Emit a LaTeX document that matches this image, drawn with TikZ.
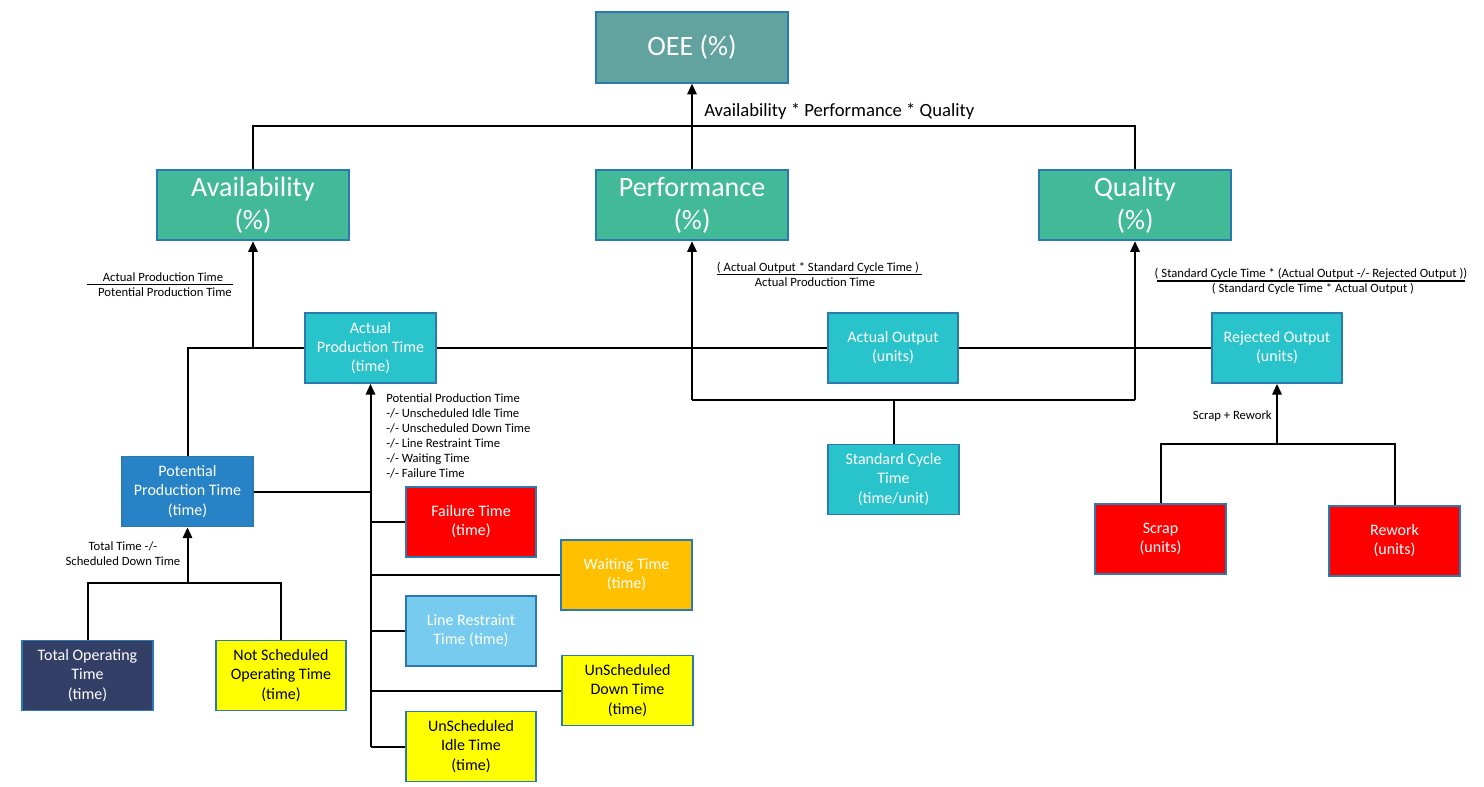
\documentclass[tikz,border=0pt]{standalone}
\usepackage{fontspec}
\setmainfont{Carlito}
\usetikzlibrary{arrows.meta}
\definecolor{bordc}{HTML}{2A7AB0}
\definecolor{oeec}{HTML}{62A39F}
\definecolor{greenc}{HTML}{42BA97}
\definecolor{cyanc}{HTML}{29C4CB}
\definecolor{bluec}{HTML}{2782C6}
\definecolor{redc}{HTML}{FF0000}
\definecolor{orangec}{HTML}{FFC000}
\definecolor{lbluec}{HTML}{76CBEE}
\definecolor{yellowc}{HTML}{FFFF00}
\definecolor{navyc}{HTML}{333F66}
\begin{document}
\begin{tikzpicture}[x=0.75pt,y=-0.75pt,
 box/.style={draw=bordc, line width=1.3pt, align=center, text=white, inner sep=1pt},
 bigbox/.style={box, minimum width=144pt, minimum height=53pt, font=\fontsize{21}{24.75}\selectfont},
 smallbox/.style={box, minimum width=98pt, minimum height=52.5pt, font=\fontsize{12}{14.3}\selectfont},
 conn/.style={line width=1.5pt},
 arr/.style={conn, -{Triangle[length=8pt,width=7pt]}},
 lbl/.style={font=\fontsize{9.5}{11.25}\selectfont, inner sep=0pt},
 fracbar/.style={line width=1.3pt},
]
\fill[white] (0,0) rectangle (1484,786);
\useasboundingbox (0,0) rectangle (1484,786);

% boxes
\node[bigbox, fill=oeec] (oee) at (692,47.5) {OEE (\%)};
\node[bigbox, fill=greenc] (avail) at (253,205) {Availability\\(\%)};
\node[bigbox, fill=greenc] (perf) at (692,205) {Performance\\(\%)};
\node[bigbox, fill=greenc] (qual) at (1135,205) {Quality\\(\%)};

\node[smallbox, fill=cyanc] (apt) at (370.5,348) {Actual\\Production Time\\(time)};
\node[smallbox, fill=cyanc] (ao) at (893,348) {Actual Output\\(units)};
\node[smallbox, fill=cyanc] (ro) at (1277,348) {Rejected Output\\(units)};
\node[smallbox, fill=cyanc] (sct) at (893.5,479.5) {Standard Cycle\\Time\\(time/unit)};
\node[smallbox, fill=bluec] (ppt) at (187.5,491.5) {Potential\\Production Time\\(time)};
\node[smallbox, fill=redc] (fail) at (471,522) {Failure Time\\(time)};
\node[smallbox, fill=orangec] (wait) at (626.5,575) {Waiting Time\\(time)};
\node[smallbox, fill=lbluec] (lr) at (471,631) {Line Restraint\\Time (time)};
\node[smallbox, fill=yellowc, text=black] (usd) at (627.5,690.5) {UnScheduled\\Down Time\\(time)};
\node[smallbox, fill=yellowc, text=black] (usi) at (471,746.5) {UnScheduled\\Idle Time\\(time)};
\node[smallbox, fill=navyc] (tot) at (87.5,675.5) {Total Operating\\Time\\(time)};
\node[smallbox, fill=yellowc, text=black] (nso) at (281,675.5) {Not Scheduled\\Operating Time\\(time)};
\node[smallbox, fill=redc] (scrap) at (1160.5,539) {Scrap\\(units)};
\node[smallbox, fill=redc] (rework) at (1394.5,541) {Rework\\(units)};

% top bus
\coordinate (busA) at (253,126);
\coordinate (busQ) at (1135,126);
\draw[conn] (avail.north) -- (busA) -- (busQ) -- (qual.north);
\draw[arr] (perf.north) -- (oee.south);

% availability
\coordinate (ajoin) at (253,348);
\draw[conn] (ppt.north) |- (apt.west);
\draw[arr] (ajoin) -- (avail.south);

% middle line
\draw[conn] (apt.east) -- (ao.west);
\draw[conn] (ao.east) -- (ro.west);

% performance / quality
\coordinate (pjoin) at (692,400);
\coordinate (qjoin) at (1135,400);
\draw[arr] (pjoin) -- (perf.south);
\draw[conn] (pjoin) -- (qjoin);
\draw[arr] (qjoin) -- (qual.south);
\draw[conn] (sct.north) -- (sct.north |- qjoin);

% rejected output
\coordinate (rjoin) at (1277,444);
\draw[arr] (rjoin) -- (ro.south);
\draw[conn] (scrap.north) |- (rjoin) -| (rework.north);

% actual production time tree
\coordinate (tbot) at (370.5,746.5);
\draw[arr] (tbot) -- (apt.south);
\draw[conn] (ppt.east) -- (ppt.east -| apt.south);
\draw[conn] (fail.west -| apt.south) -- (fail.west);
\draw[conn] (wait.west -| apt.south) -- (wait.west);
\draw[conn] (lr.west -| apt.south) -- (lr.west);
\draw[conn] (usd.west -| apt.south) -- (usd.west);
\draw[conn] (usi.west -| apt.south) -- (usi.west);

% potential production time tree
\coordinate (pbus) at (187.5,583);
\draw[arr] (pbus) -- (ppt.south);
\draw[conn] (tot.north) |- (pbus) -| (nso.north);

% labels
\node[font=\fontsize{14}{17}\selectfont, anchor=west, inner sep=0pt] (toplbl) at (704,111) {Availability * Performance * Quality};

\node[lbl] (afnum) at (163,277) {Actual Production Time};
\node[lbl] (afden) at (165,292) {Potential Production Time};
\draw[fracbar] (87,284.5) -- (233,284.5);

\node[lbl] (pfnum) at (818,268) {( Actual Output * Standard Cycle Time )};
\node[lbl] (pfden) at (815,282) {Actual Production Time};
\draw[fracbar] (717,274.5) -- (922,274.5);

\node[lbl] (qfnum) at (1311,274) {( Standard Cycle Time * (Actual Output -/- Rejected Output ))};
\node[lbl] (qfden) at (1313,289) {( Standard Cycle Time * Actual Output )};
\draw[fracbar] (1157,281) -- (1465,281);

\node[lbl, anchor=north west, align=left] (sublist) at (386,393) {Potential Production Time\\-/- Unscheduled Idle Time\\-/- Unscheduled Down Time\\-/- Line Restraint Time\\-/- Waiting Time\\-/- Failure Time};

\node[lbl, align=center] (ttlbl) at (123,553.5) {Total Time -/-\\Scheduled Down Time};
\node[lbl, anchor=east] (srlbl) at (1272,416) {Scrap + Rework};
\end{tikzpicture}
\end{document}
